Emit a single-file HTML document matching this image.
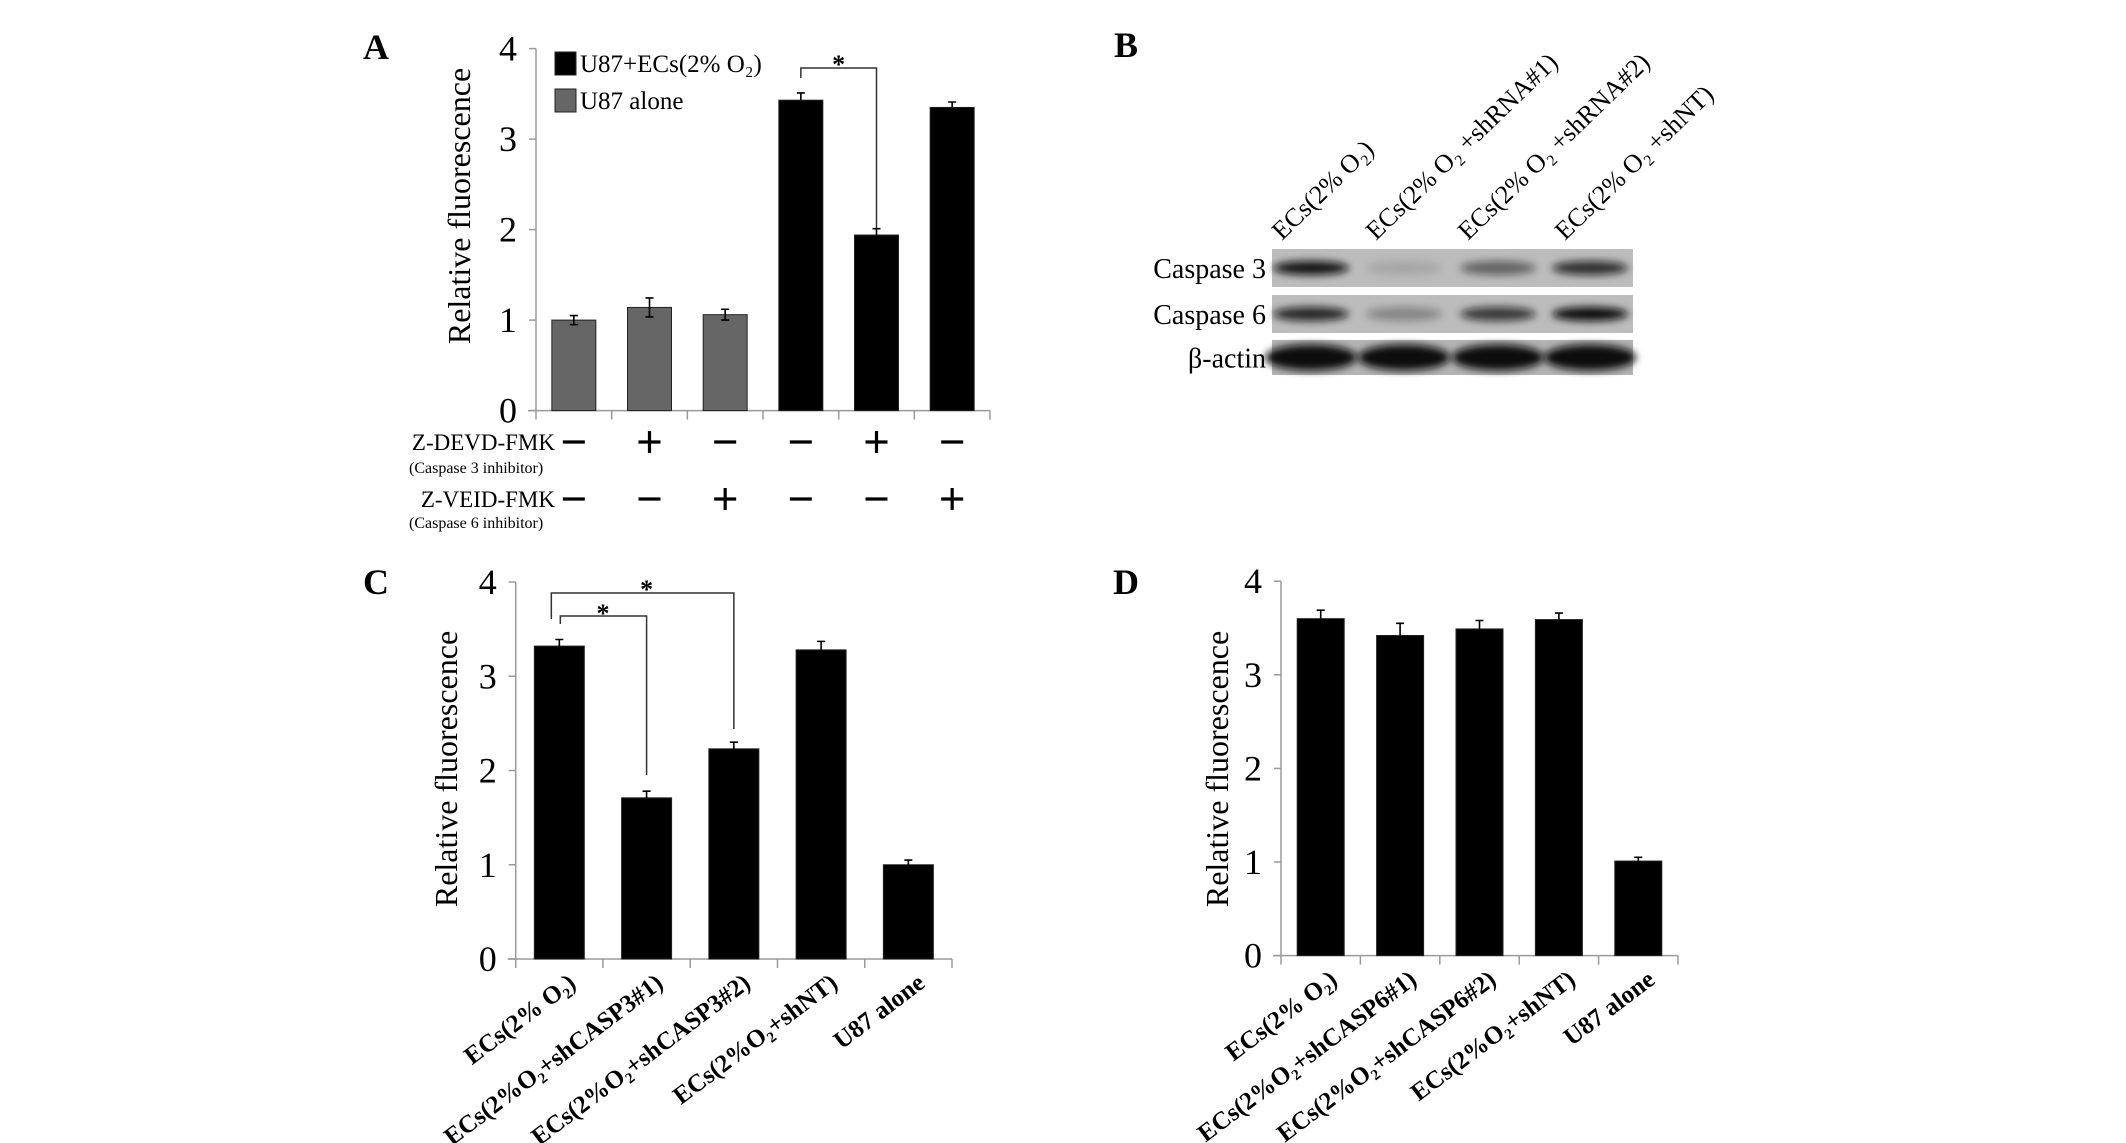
<!DOCTYPE html>
<html><head><meta charset="utf-8">
<style>
html,body{margin:0;padding:0;background:#fff;}
svg{display:block;font-family:"Liberation Serif","DejaVu Serif",serif;}
</style></head>
<body>
<svg id="fig" width="2126" height="1143" viewBox="0 0 2126 1143" xmlns="http://www.w3.org/2000/svg">
<defs>
<filter id="blur" x="-30%" y="-80%" width="160%" height="260%"><feGaussianBlur stdDeviation="4"/></filter>
</defs>
<text x="363" y="59" font-size="36" font-weight="bold">A</text>
<text x="1114" y="57" font-size="36" font-weight="bold">B</text>
<text x="363" y="594" font-size="36" font-weight="bold">C</text>
<text x="1113" y="594" font-size="36" font-weight="bold">D</text>
<g id="gA"></g>
<g id="gB"></g>
<g id="gC"></g>
<g id="gD"></g>
</svg>
<script>
// ---- data ----
const yTicks = [0, 1, 2, 3, 4];
const aCategories = ['1', '2', '3', '4', '5', '6'];
const aValues = [1.0, 1.14, 1.06, 3.43, 1.94, 3.35];
const aErrors = [0.05, 0.105, 0.06, 0.08, 0.07, 0.06];
const aGroups = ['alone', 'alone', 'alone', 'ecs', 'ecs', 'ecs'];
const aDevd = ['-', '+', '-', '-', '+', '-'];
const aVeid = ['-', '-', '+', '-', '-', '+'];
const cCategories = ['ECs(2% O₂)', 'ECs(2%O₂+shCASP3#1)', 'ECs(2%O₂+shCASP3#2)', 'ECs(2%O₂+shNT)', 'U87 alone'];
const cValues = [3.32, 1.71, 2.23, 3.28, 1.0];
const cErrors = [0.07, 0.07, 0.07, 0.09, 0.05];
const dCategories = ['ECs(2% O₂)', 'ECs(2%O₂+shCASP6#1)', 'ECs(2%O₂+shCASP6#2)', 'ECs(2%O₂+shNT)', 'U87 alone'];
const dValues = [3.60, 3.42, 3.49, 3.59, 1.01];
const dErrors = [0.09, 0.13, 0.09, 0.07, 0.04];
const blotLanes = ['ECs(2% O₂)', 'ECs(2% O₂ +shRNA#1)', 'ECs(2% O₂ +shRNA#2)', 'ECs(2% O₂ +shNT)'];
const blotRows = ['Caspase 3', 'Caspase 6', 'β-actin'];
const casp3Intensity = [0.95, 0.12, 0.5, 0.8];
const casp6Intensity = [0.85, 0.3, 0.75, 1.0];
const actinIntensity = [1.0, 1.0, 1.0, 1.0];

const NS = 'http://www.w3.org/2000/svg';
function mk(tag, parent, attrs) {
  const e = document.createElementNS(NS, tag);
  for (const k in attrs) e.setAttribute(k, attrs[k]);
  parent.appendChild(e);
  return e;
}

function drawBarChart(g, opt, cats, vals, errs) {
  const y = v => opt.y0 - v * opt.unit;
  const step = (opt.xEnd - opt.x0) / cats.length;
  const x = i => opt.x0 + (i + 0.5) * step;
  // axes
  const ya = mk('line', g, {x1: opt.x0, y1: y(4), x2: opt.x0, y2: opt.y0, stroke: '#9a9a9a', 'stroke-width': 1.5});
  
  
  const xa = mk('line', g, {x1: opt.x0 - 8, y1: opt.y0, x2: opt.xEnd, y2: opt.y0, stroke: '#9a9a9a', 'stroke-width': 1.5});
  
  
  yTicks.forEach(t => {
    const tk = mk('line', g, {x1: opt.x0 - 7, y1: y(t), x2: opt.x0, y2: y(t), stroke: '#9a9a9a', 'stroke-width': 1.5});
    
    
    const tl = mk('text', g, {x: opt.x0 - 19, y: y(t) + 12, 'font-size': 36, 'text-anchor': 'end'});
    tl.textContent = t;
    
    
  });
  for (let i = 0; i <= cats.length; i++) {
    const xt = opt.x0 + i * step;
    const tk = mk('line', g, {x1: xt, y1: opt.y0, x2: xt, y2: opt.y0 + 9, stroke: '#9a9a9a', 'stroke-width': 1.5});
    
    
  }
  const tt = mk('text', g, {x: 0, y: 0, 'font-size': 32, 'text-anchor': 'middle', transform: `translate(${opt.titleX},${opt.titleY}) rotate(-90)`});
  tt.textContent = 'Relative fluorescence';
  
  
  cats.forEach((c, i) => {
    const fill = opt.colors ? opt.colors[i] : '#000';
    const b = mk('rect', g, {x: x(i) - opt.bw / 2, y: y(vals[i]), width: opt.bw, height: opt.y0 - y(vals[i]), fill: fill, stroke: '#222', 'stroke-width': 1});
    
    
    const top = y(vals[i] + errs[i]), bot = opt.greyErr && fill !== '#000' ? y(vals[i] - errs[i]) : y(vals[i]);
    const e1 = mk('path', g, {d: `M${x(i)},${top}V${bot}M${x(i) - 4},${top}H${x(i) + 4}` + (bot !== y(vals[i]) ? `M${x(i) - 4},${bot}H${x(i) + 4}` : ''), stroke: '#000', 'stroke-width': 1.6, fill: 'none'});
    
    
    if (opt.rotLabels) {
      const t = mk('text', g, {x: 0, y: 0, 'font-size': 25, 'font-weight': 'bold', 'text-anchor': 'end', transform: `translate(${x(i) + 18},${opt.y0 + 27}) rotate(-37)`});
      t.textContent = c;
      
      
    }
  });
  return {x, y};
}

// ---- Panel A ----
const gA = document.getElementById('gA');
const sA = drawBarChart(gA, {x0: 536, xEnd: 990, y0: 410.6, unit: 90.5, bw: 44, titleX: 470, titleY: 206, greyErr: true,
  colors: aGroups.map(g => g === 'alone' ? '#666666' : '#000')}, aCategories, aValues, aErrors);
// legend
[['#000', 'U87+ECs(2% O₂)', 52], ['#666666', 'U87 alone', 89]].forEach((l, i) => {
  const r = mk('rect', gA, {x: 555, y: l[2], width: 21, height: 23, fill: l[0], stroke: '#222', 'stroke-width': 1});
  
  
  const t = mk('text', gA, {x: 580, y: l[2] + 20, 'font-size': 25});
  t.textContent = l[1];
  
  
});
// significance bracket A
const brA = mk('path', gA, {d: `M${sA.x(3)},78V68H${sA.x(4)}V228`, stroke: '#333', 'stroke-width': 1.5, fill: 'none'});


const stA = mk('text', gA, {x: (sA.x(3) + sA.x(4)) / 2, y: 73, 'font-size': 26, 'font-weight': 'bold', 'text-anchor': 'middle'});
stA.textContent = '*';


// treatment rows
function sign(g, cx, cy, s) {
  const d = s === '+' ? `M${cx - 11},${cy}H${cx + 11}M${cx},${cy - 11}V${cy + 11}` : `M${cx - 11},${cy}H${cx + 11}`;
  const p = mk('path', g, {d: d, stroke: '#000', 'stroke-width': 3.2, fill: 'none'});
  return p;
}
const rowLabels = [['Z-DEVD-FMK', '(Caspase 3 inhibitor)', 450, 473, aDevd, 442], ['Z-VEID-FMK', '(Caspase 6 inhibitor)', 507, 528, aVeid, 499]];
rowLabels.forEach(r => {
  const t = mk('text', gA, {x: 555, y: r[2], 'font-size': 23, 'text-anchor': 'end'});
  t.textContent = r[0];
  
  
  const t2 = mk('text', gA, {x: 409, y: r[3], 'font-size': 16});
  t2.textContent = r[1];
  
  
  r[4].forEach((s, i) => {
    const p = sign(gA, sA.x(i), r[5], s);
    
    
  });
});

// ---- Panel C ----
const gC = document.getElementById('gC');
const sC = drawBarChart(gC, {x0: 515.7, xEnd: 952, y0: 959, unit: 94.25, bw: 50, titleX: 457, titleY: 769, rotLabels: true}, cCategories, cValues, cErrors);
const brC1 = mk('path', gC, {d: `M${sC.x(0) - 8},619V593H${sC.x(2)}V729`, stroke: '#333', 'stroke-width': 1.5, fill: 'none'});


const brC2 = mk('path', gC, {d: `M${sC.x(0) + 1},624V616H${sC.x(1)}V775`, stroke: '#333', 'stroke-width': 1.5, fill: 'none'});


const stC1 = mk('text', gC, {x: (sC.x(0) + sC.x(2)) / 2, y: 598, 'font-size': 26, 'font-weight': 'bold', 'text-anchor': 'middle'});
stC1.textContent = '*';


const stC2 = mk('text', gC, {x: (sC.x(0) + sC.x(1)) / 2, y: 622, 'font-size': 26, 'font-weight': 'bold', 'text-anchor': 'middle'});
stC2.textContent = '*';



// ---- Panel D ----
const gD = document.getElementById('gD');
drawBarChart(gD, {x0: 1281, xEnd: 1678, y0: 955.6, unit: 93.6, bw: 47, titleX: 1228, titleY: 769, rotLabels: true}, dCategories, dValues, dErrors);

// ---- Panel B (western blot) ----
const gB = document.getElementById('gB');
const blotX0 = 1272, blotX1 = 1633;
const rowBoxes = [[249, 38], [295, 38], [340, 35]];
const laneCenters = [1311, 1404, 1498, 1590];
const intensities = [casp3Intensity, casp6Intensity, actinIntensity];
blotRows.forEach((name, r) => {
  const [ry, rh] = rowBoxes[r];
  const bg = mk('rect', gB, {x: blotX0, y: ry, width: blotX1 - blotX0, height: rh, fill: r === 2 ? '#b4b4b4' : '#bcbcbc'});
  
  
  intensities[r].forEach((v, i) => {
    const band = mk('ellipse', gB, {cx: laneCenters[i], cy: ry + rh / 2, rx: r === 2 ? 46 : 38, ry: r === 2 ? 13 : 7, fill: '#111', opacity: v, filter: 'url(#blur)'});
    
    
  });
  const t = mk('text', gB, {x: 1266, y: ry + rh / 2 + 10, 'font-size': 28, 'text-anchor': 'end'});
  t.textContent = name;
  
  
});
const laneStarts = [1282, 1376, 1468, 1565];
blotLanes.forEach((l, i) => {
  const t = mk('text', gB, {x: 0, y: 0, 'font-size': 26, transform: `translate(${laneStarts[i]},241) rotate(-44)`});
  t.textContent = l;
  
  
});
</script>
</body></html>
